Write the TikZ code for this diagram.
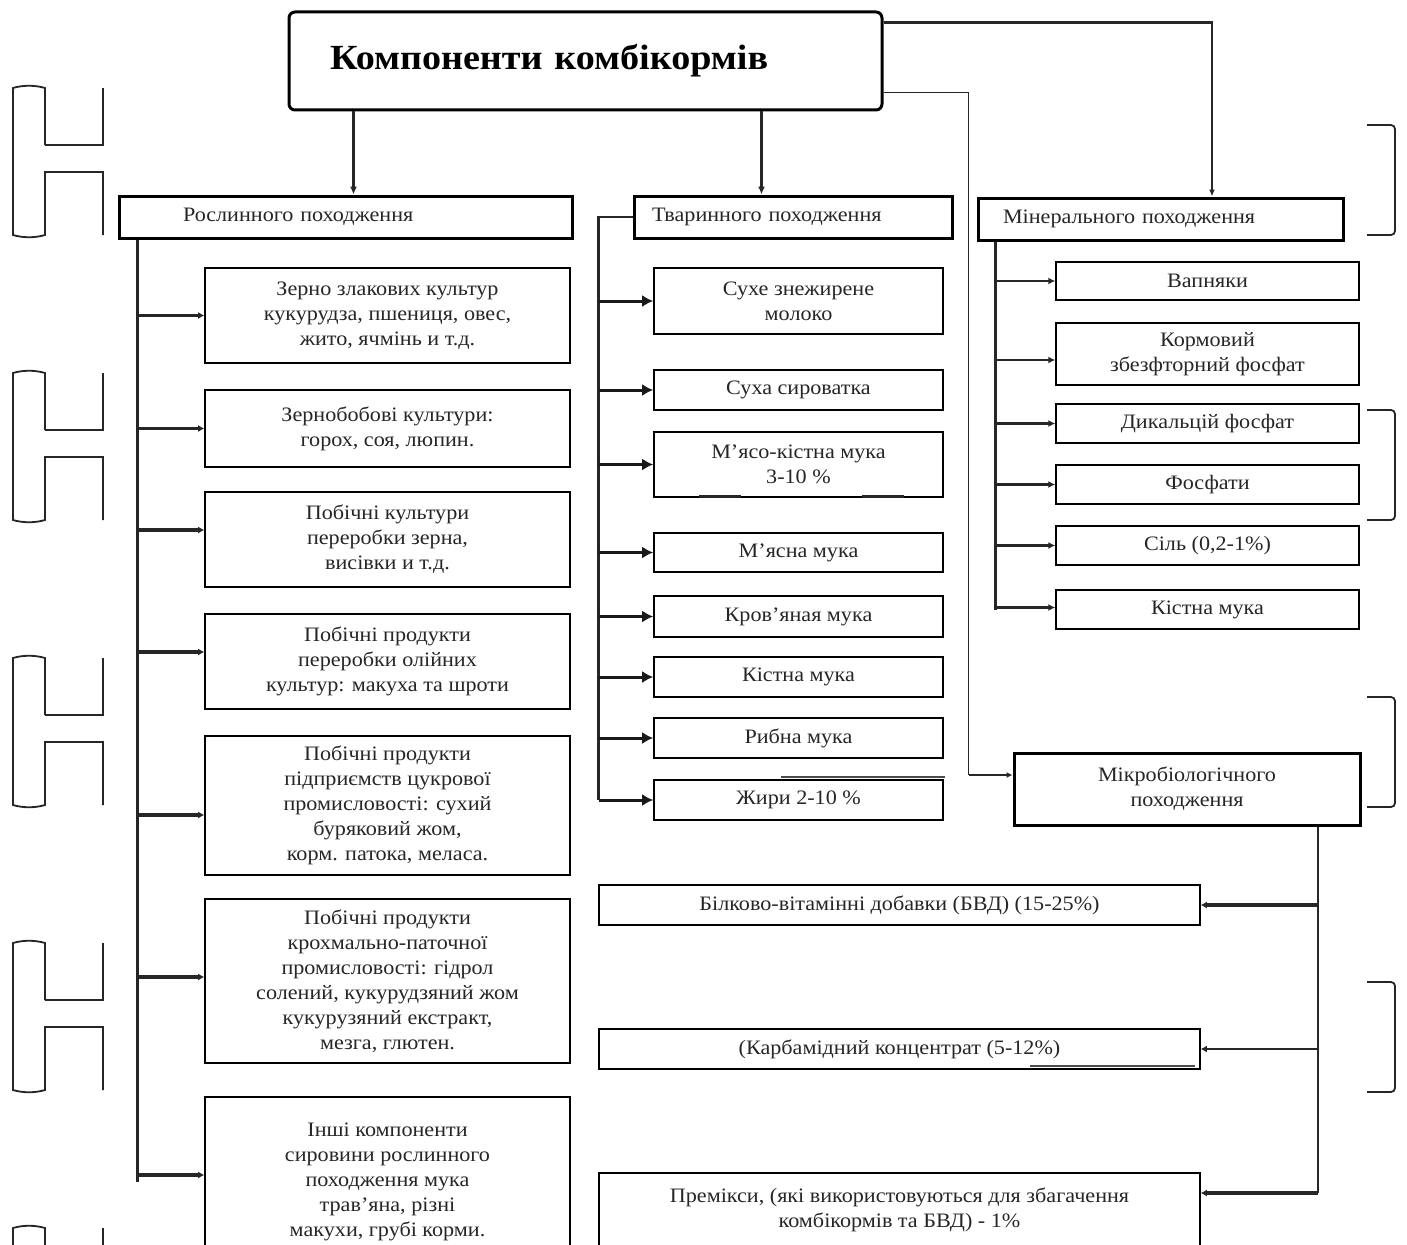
\documentclass[tikz,border=0pt]{standalone}
\usepackage{fontspec}
\setmainfont{Liberation Serif}[FakeStretch=1.08]
\usetikzlibrary{arrows.meta,calc}
\newcommand{\leaffont}{\fontsize{20.5}{25}\selectfont}
\newcommand{\hdrfont}{\fontsize{20.5}{25}\selectfont}
\newcommand{\ttlfont}{\fontsize{35.3}{40}\selectfont\bfseries}
\begin{document}
\begin{tikzpicture}[x=1pt,y=-1pt,
  leaf/.style={draw, line width=1.6pt, inner sep=2pt, align=center, font=\leaffont, text=black!85},
  hdr/.style={draw, line width=3pt, inner ysep=2pt, align=left, font=\hdrfont, minimum height=42pt, text=black!85},
  ttl/.style={draw, line width=3pt, rounded corners=6pt, inner xsep=41pt, text width=511pt, minimum height=98pt, align=left, font=\ttlfont},
  trunk/.style={line width=2.6pt, black!85},
  larr/.style={line width=3.6pt, black!85, -{Latex[length=6pt,width=7pt]}},
  marr/.style={line width=3pt, black!90, -{Latex[length=11pt,width=12pt]}},
  rarr/.style={line width=2.4pt, black!85, -{Latex[length=7pt,width=7pt]}},
  barr/.style={line width=3.2pt, black!85, -{Latex[length=6pt,width=7pt]}},
  darr/.style={line width=2.6pt, black!85, -{Latex[length=8pt,width=7pt]}},
  deco/.style={line width=1.8pt, black!85},
]
\useasboundingbox (0,0) rectangle (1407,1244);
\fill[white] (0,0) rectangle (1407,1244);

% title and category headers
\node[ttl] (title) at (585.5,61) {Компоненти комбікормів};
\node[hdr, inner xsep=64pt, text width=325pt] (rosl) at (345.5,217) {Рослинного походження};
\node[hdr, inner xsep=18pt, text width=282pt] (tvar) at (793,217) {Тваринного походження};
\node[hdr, inner xsep=25pt, text width=315pt] (miner) at (1160.5,219) {Мінерального походження};
\node[draw, line width=3pt, align=center, font=\hdrfont, minimum width=346pt, minimum height=72pt, text=black!85] (mikro) at (1187,789) {Мікробіологічного\\походження};

% plant column
\begin{scope}[every node/.style={leaf, minimum width=365pt}]
\node[minimum height=95pt] (l1) at (387.5,315.5) {Зерно злакових культур\\кукурудза, пшениця, овес,\\жито, ячмінь и т.д.};
\node[minimum height=77pt] (l2) at (387.5,428.5) {Зернобобові культури:\\горох, соя, люпин.};
\node[minimum height=95pt] (l3) at (387.5,539.5) {Побічні культури\\переробки зерна,\\висівки и т.д.};
\node[minimum height=95pt] (l4) at (387.5,661.5) {Побічні продукти\\переробки олійних\\культур: макуха та шроти};
\node[minimum height=139pt] (l5) at (387.5,805.5) {Побічні продукти\\підприємств цукрової\\промисловості: сухий\\буряковий жом,\\корм. патока, меласа.};
\node[minimum height=164pt] (l6) at (387.5,981) {Побічні продукти\\крохмально-паточної\\промисловості: гідрол\\солений, кукурудзяний жом\\кукурузяний екстракт,\\мезга, глютен.};
\node[minimum height=170pt] (l7) at (387.5,1182) {Інші компоненти\\сировини рослинного\\походження мука\\трав'яна, різні\\макухи, грубі корми.};
\end{scope}

% animal column
\begin{scope}[every node/.style={leaf, minimum width=289pt}]
\node[minimum height=66pt] (m1) at (798.5,301) {Сухе знежирене\\молоко};
\node[minimum height=40pt] (m2) at (798.5,390) {Суха сироватка};
\node[minimum height=65pt] (m3) at (798.5,464.5) {М'ясо-кістна мука\\3-10 \%};
\node[minimum height=39pt] (m4) at (798.5,552.5) {М'ясна мука};
\node[minimum height=41pt] (m5) at (798.5,616.5) {Кров'яная мука};
\node[minimum height=40pt] (m6) at (798.5,677) {Кістна мука};
\node[minimum height=40pt] (m7) at (798.5,738) {Рибна мука};
\node[minimum height=40pt] (m8) at (798.5,800) {Жири 2-10 \%};
\end{scope}

% mineral column
\begin{scope}[every node/.style={leaf, minimum width=303pt, line width=1.4pt}]
\node[minimum height=38pt] (r1) at (1207.5,281) {Вапняки};
\node[minimum height=62pt] (r2) at (1207.5,354) {Кормовий\\збезфторний фосфат};
\node[minimum height=39pt] (r3) at (1207.5,423.5) {Дикальцій фосфат};
\node[minimum height=39pt] (r4) at (1207.5,484.5) {Фосфати};
\node[minimum height=39pt] (r5) at (1207.5,545.5) {Сіль (0,2-1\%)};
\node[minimum height=39pt] (r6) at (1207.5,609.5) {Кістна мука};
\end{scope}

% microbiological outputs
\begin{scope}[every node/.style={leaf, minimum width=601pt}]
\node[minimum height=40pt] (b1) at (899.5,905) {Білково-вітамінні добавки (БВД) (15-25\%)};
\node[minimum height=40pt] (b2) at (899.5,1049) {(Карбамідний концентрат (5-12\%)};
\node[minimum height=74pt] (b3) at (899.5,1210) {Премікси, (які використовуються для збагачення\\комбікормів та БВД) - 1\%};
\end{scope}

% connectors from the title
\coordinate (t1) at ([xshift=66pt]title.south west);
\draw[darr] (t1) -- (t1 |- rosl.north);
\coordinate (t2) at ([xshift=474pt]title.south west);
\draw[darr] (t2) -- (t2 |- tvar.north);
\coordinate (t3) at ([yshift=-12pt]title.north east);
\coordinate (m3top) at ([xshift=51.5pt]miner.north);
\draw[line width=2.4pt, black!85, -{Latex[length=7pt,width=6pt]}] (t3) -| (m3top);
\coordinate (t4) at ([yshift=-82pt]title.north east);
\coordinate (mk) at ([yshift=14pt]mikro.west);
\coordinate (mkc) at ([xshift=-44pt]mk);
\draw[line width=1.2pt, black!85] (t4) -| (mkc);
\draw[line width=1.6pt, black!85, -{Latex[length=6pt,width=6pt]}] (mkc) -- (mk);

% plant trunk
\coordinate (lt) at ([xshift=20pt]rosl.south west);
\draw[trunk] (lt) -- (lt |- l7.west);
\foreach \n/\dy in {l1/0,l2/0,l3/9.5,l4/9.5,l5/-9.5,l6/4,l7/7} {
  \coordinate (ae) at ([yshift=\dy pt]\n.west);
  \draw[larr] (lt |- ae) -- (ae);
}

% animal trunk
\coordinate (mt) at ([xshift=-34pt]tvar.west);
\draw[trunk, line width=2.2pt] (tvar.west) -- (mt) -- (mt |- m8.west);
\foreach \n in {m1,m2,m3,m4,m5,m6,m7,m8}
  \draw[marr] (mt |- \n.west) -- (\n.west);

% mineral trunk
\coordinate (rt) at ([xshift=19pt]miner.south west);
\draw[trunk, line width=2.2pt] (rt) -- (rt |- r6.west);
\foreach \n/\dy in {r1/0,r2/-6,r3/0,r4/0,r5/0,r6/2} {
  \coordinate (re) at ([yshift=\dy pt]\n.west);
  \draw[rarr] (rt |- re) -- (re);
}

% microbiological trunk
\coordinate (bt) at ([xshift=131pt]mikro.south);
\coordinate (b3a) at ([yshift=17pt]b3.east);
\draw[trunk] (bt) -- (bt |- b3a);
\draw[barr] (bt |- b1.east) -- (b1.east);
\draw[barr, line width=2.6pt] (bt |- b2.east) -- (b2.east);
\draw[barr] (bt |- b3a) -- (b3a);

% small marks of the scan
\draw[line width=3pt, black!85] (699,496) -- (741,496) (862,496) -- (904,496);
\draw[line width=1.2pt, black!70] (1030,1066) -- (1195,1066);
\draw[line width=1.4pt, black!70] (781,777) -- (945,777);

% binder marks at the left edge
\foreach \t in {88,373,658,943,1228} {
  \draw[deco] (45,\t+57) -- (45,\t) .. controls (35,\t-3) and (23,\t-3) .. (13,\t)
     -- (13,\t+147) .. controls (23,\t+150) and (35,\t+150) .. (45,\t+147)
     -- (45,\t+84) -- (103,\t+84) -- (103,\t+147);
  \draw[deco] (45,\t+57) -- (103,\t+57) -- (103,\t);
}
% brackets at the right edge
\foreach \t in {125,410,697,982}
  \draw[deco, rounded corners=4pt] (1367,\t) -- (1395,\t) -- (1395,\t+110) -- (1367,\t+110);
\end{tikzpicture}
\end{document}
